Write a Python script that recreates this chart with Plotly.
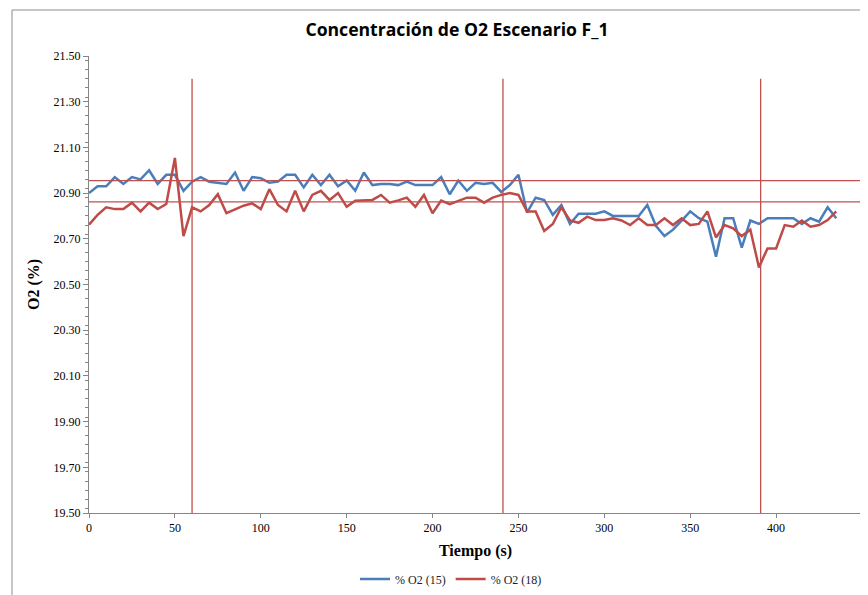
import plotly.graph_objects as go

# ---- data ----
tiempo = [0, 5, 10, 15, 20, 25, 30, 35, 40, 45, 50, 55, 60, 65, 70, 75, 80, 85, 90, 95,
          100, 105, 110, 115, 120, 125, 130, 135, 140, 145, 150, 155, 160, 165, 170, 175,
          180, 185, 190, 195, 200, 205, 210, 215, 220, 225, 230, 235, 240, 245, 250, 255,
          260, 265, 270, 275, 280, 285, 290, 295, 300, 305, 310, 315, 320, 325, 330, 335,
          340, 345, 350, 355, 360, 365, 370, 375, 380, 385, 390, 395, 400, 405, 410, 415,
          420, 425, 430, 435]

o2_15 = [20.90, 20.93, 20.93, 20.97, 20.94, 20.97, 20.96, 21.00, 20.94, 20.98,
         20.98, 20.91, 20.95, 20.97, 20.95, 20.945, 20.94, 20.99, 20.91, 20.97,
         20.965, 20.945, 20.95, 20.98, 20.98, 20.925, 20.98, 20.935, 20.98, 20.93,
         20.955, 20.91, 20.99, 20.935, 20.94, 20.94, 20.935, 20.95, 20.935, 20.935,
         20.935, 20.97, 20.895, 20.955, 20.91, 20.945, 20.94, 20.945, 20.905, 20.935,
         20.98, 20.815, 20.88, 20.87, 20.805, 20.848, 20.765, 20.81, 20.81, 20.81,
         20.82, 20.80, 20.80, 20.80, 20.80, 20.848, 20.757, 20.712, 20.74, 20.78,
         20.82, 20.79, 20.775, 20.622, 20.79, 20.79, 20.661, 20.78, 20.765, 20.79,
         20.79, 20.79, 20.79, 20.765, 20.79, 20.775, 20.838, 20.79]

o2_18 = [20.762, 20.805, 20.838, 20.83, 20.83, 20.858, 20.82, 20.858, 20.83, 20.852,
         21.054, 20.712, 20.838, 20.82, 20.848, 20.895, 20.812, 20.83, 20.845, 20.855,
         20.83, 20.917, 20.848, 20.82, 20.91, 20.82, 20.892, 20.91, 20.87, 20.90,
         20.84, 20.867, 20.867, 20.87, 20.892, 20.858, 20.868, 20.88, 20.84, 20.892,
         20.812, 20.867, 20.852, 20.867, 20.88, 20.88, 20.858, 20.88, 20.892, 20.90,
         20.892, 20.82, 20.82, 20.734, 20.765, 20.838, 20.78, 20.77, 20.797, 20.782,
         20.782, 20.79, 20.78, 20.76, 20.79, 20.76, 20.76, 20.79, 20.76, 20.79,
         20.76, 20.765, 20.82, 20.706, 20.76, 20.746, 20.712, 20.74, 20.575, 20.658,
         20.658, 20.76, 20.753, 20.78, 20.753, 20.76, 20.782, 20.82]

series_names = ["% O2 (15)", "% O2 (18)"]
series_colors = ["#4A7EBB", "#BE4B48"]

vlines_x = [60, 241, 391]
vline_top = 21.40
hlines_y = [20.955, 20.862]

y_ticks = [19.50, 19.70, 19.90, 20.10, 20.30, 20.50, 20.70, 20.90, 21.10, 21.30, 21.50]
x_ticks = [0, 50, 100, 150, 200, 250, 300, 350, 400, 450]

# ---- figure ----
fig = go.Figure()
for vals, name, col in zip([o2_15, o2_18], series_names, series_colors):
    fig.add_trace(go.Scatter(x=tiempo, y=vals, mode="lines", name=name,
                             line=dict(color=col, width=2.5)))

ref_color = "#C0504D"
for xv in vlines_x:
    fig.add_shape(type="line", xref="x", yref="y", x0=xv, x1=xv, y0=y_ticks[0], y1=vline_top,
                  line=dict(color=ref_color, width=1.3))
for yv in hlines_y:
    fig.add_shape(type="line", xref="x", yref="y", x0=x_ticks[0], x1=x_ticks[-1], y0=yv, y1=yv,
                  line=dict(color=ref_color, width=1.3))

# page offset (default body margin of the html page is 8px)
OFF = 8
FW, FH = 868 - OFF, 595 - OFF
L, T, W, H = 89 - OFF, 56 - OFF, 773, 457


def px(x):
    return (x - OFF - L) / W


def py(y):
    return (T + H - (y - OFF)) / H


# chart frame (outer border of the embedded chart)
fig.add_shape(type="path", xref="paper", yref="paper",
              path=f"M {px(12)},{py(620)} L {px(12)},{py(10)} L {px(880)},{py(10)}",
              line=dict(color="#8C8C8C", width=1))

serif = "Liberation Serif, Times New Roman, serif"
fig.update_layout(
    width=FW, height=FH,
    margin=dict(l=L, r=FW - L - W, t=T, b=FH - T - H, autoexpand=False),
    paper_bgcolor="white", plot_bgcolor="white",
    title=dict(text="<b>Concentración de O2 Escenario F_1</b>",
               font=dict(family="Open Sans, Liberation Sans, sans-serif", size=17.6, color="black"),
               x=(457 - OFF) / FW, xanchor="center", xref="container",
               y=1 - (30 - OFF) / FH, yanchor="middle", yref="container"),
    showlegend=True,
    legend=dict(orientation="h", x=px(451), xanchor="center", y=py(579), yanchor="middle",
                font=dict(family=serif, size=12, color="#222222"),
                itemwidth=30, tracegroupgap=0, bgcolor="rgba(0,0,0,0)"),
    xaxis=dict(range=[x_ticks[0], x_ticks[-1]], tickvals=x_ticks, automargin=False,
               showgrid=False, zeroline=False, showline=True, linecolor="#868686", linewidth=1,
               ticks="outside", ticklen=4, tickcolor="#868686",
               tickfont=dict(family=serif, size=12, color="black"),
               title=dict(text="<b>Tiempo (s)</b>", font=dict(family=serif, size=16, color="black"),
                          standoff=10)),
    yaxis=dict(range=[y_ticks[0], y_ticks[-1]], tickvals=y_ticks, tickformat=".2f", automargin=False,
               showgrid=False, zeroline=False, showline=True, linecolor="#868686", linewidth=1,
               ticks="outside", ticklen=5, tickcolor="#868686",
               minor=dict(ticks="outside", dtick=0.04, ticklen=3, tickcolor="#868686"),
               tickfont=dict(family=serif, size=12, color="black"),
               title=dict(text="<b>O2 (%)</b>", font=dict(family=serif, size=16, color="black"),
                          standoff=9)),
)

fig.write_html("out.html")
